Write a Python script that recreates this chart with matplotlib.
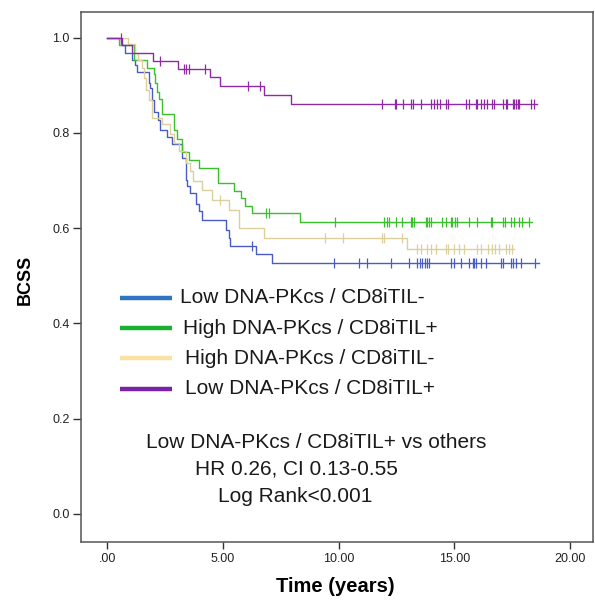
import matplotlib
matplotlib.use("Agg")
import matplotlib.pyplot as plt
from matplotlib.lines import Line2D

plt.rcParams['font.family'] = ['Liberation Sans', 'DejaVu Sans']

# ---- data ----
group_names = ["Low DNA-PKcs / CD8iTIL-", "High DNA-PKcs / CD8iTIL+",
               "High DNA-PKcs / CD8iTIL-", "Low DNA-PKcs / CD8iTIL+"]

blue_times = [0, 0.6, 0.78, 1.07, 1.21, 1.3, 1.78, 1.85, 1.95, 2.0, 2.2, 2.27, 2.56, 2.8,
              3.23, 3.38, 3.45, 3.56, 3.85, 3.95, 4.1, 5.11, 5.25, 5.32, 6.41, 7.13]
blue_surv = [1.0, 0.985, 0.968, 0.954, 0.943, 0.929, 0.905, 0.894, 0.87, 0.845, 0.828, 0.807,
             0.792, 0.776, 0.748, 0.702, 0.688, 0.674, 0.65, 0.636, 0.617, 0.597, 0.58, 0.562,
             0.545, 0.527]
blue_end = 18.67
blue_cens = [6.26, 9.8, 10.88, 11.24, 12.28, 13.04, 13.41, 13.51, 13.62, 13.72, 13.84, 13.91,
             14.85, 14.99, 15.28, 15.64, 15.79, 15.86, 15.93, 16.15, 16.36, 17.01, 17.09,
             17.45, 17.52, 17.66, 17.88, 18.5]

green_times = [0, 0.49, 1.14, 1.72, 2.0, 2.08, 2.15, 2.22, 2.37, 2.87, 3.0, 3.23, 3.52, 3.95,
               4.80, 5.47, 5.78, 5.97, 6.26, 8.35]
green_surv = [1.0, 0.985, 0.954, 0.937, 0.923, 0.904, 0.886, 0.871, 0.840, 0.806, 0.788, 0.760,
              0.744, 0.727, 0.694, 0.679, 0.663, 0.646, 0.632, 0.614]
green_end = 18.38
green_cens = [6.88, 6.98, 9.83, 11.96, 12.08, 12.18, 12.47, 12.76, 13.12, 13.19, 13.26, 13.77,
              13.84, 13.91, 13.98, 14.49, 14.63, 14.85, 14.92, 15.02, 15.14, 15.64, 16.0,
              16.58, 16.65, 17.09, 17.19, 17.45, 17.59, 17.81, 17.95, 18.24]

beige_times = [0, 0.89, 1.21, 1.31, 1.5, 1.58, 1.66, 1.81, 1.95, 2.37, 2.73, 2.87, 3.09, 3.38,
               3.59, 3.71, 4.1, 4.53, 5.25, 5.68, 6.77, 12.94]
beige_surv = [1.0, 0.987, 0.968, 0.954, 0.936, 0.915, 0.891, 0.87, 0.832, 0.818, 0.797, 0.779,
              0.762, 0.737, 0.72, 0.699, 0.681, 0.660, 0.639, 0.601, 0.580, 0.556]
beige_end = 17.59
beige_cens = [4.86, 9.39, 10.2, 11.89, 11.96, 12.76, 13.41, 13.55, 13.84, 13.98, 14.2, 14.63,
              14.71, 14.99, 15.21, 15.42, 16.0, 16.15, 16.44, 16.65, 16.75, 16.94, 17.23,
              17.37, 17.48]

purple_times = [0, 0.64, 1.07, 1.98, 3.06, 4.43, 4.86, 6.77, 7.92]
purple_surv = [1.0, 0.985, 0.968, 0.952, 0.934, 0.917, 0.898, 0.880, 0.860]
purple_end = 18.6
purple_cens = [0.6, 2.29, 3.33, 3.42, 3.52, 4.24, 6.09, 6.62, 11.89, 12.42, 12.47, 12.80,
               13.12, 13.23, 13.58, 13.98, 14.13, 14.27, 14.39, 14.63, 14.71, 15.50, 15.64,
               15.93, 16.0, 16.15, 16.29, 16.41, 16.65, 16.72, 17.09, 17.23, 17.30, 17.52,
               17.59, 17.66, 17.74, 17.81, 18.31, 18.43]

x_ticks = [0, 5, 10, 15, 20]
x_tick_labels = [".00", "5.00", "10.00", "15.00", "20.00"]
y_ticks = [0.0, 0.2, 0.4, 0.6, 0.8, 1.0]
y_tick_labels = ["0.0", "0.2", "0.4", "0.6", "0.8", "1.0"]

annotation_lines = ["Low DNA-PKcs / CD8iTIL+ vs others", "HR 0.26, CI 0.13-0.55",
                    "Log Rank<0.001"]

# ---- styles ----
curve_colors = ["#4a5cc4", "#3cbf2c", "#dccf9c", "#8e2aa4"]
legend_colors = ["#2f74c0", "#18b030", "#fbe2a2", "#7a22a8"]

fig = plt.figure(figsize=(5.95, 6.0), dpi=100)
ax = fig.add_axes([81 / 595, 1 - 542 / 600, (593 - 81) / 595, (542 - 12) / 600])


def surv_at(times, surv, t):
    s = surv[0]
    for ti, si in zip(times, surv):
        if ti <= t:
            s = si
    return s


groups = [
    (blue_times, blue_surv, blue_end, blue_cens),
    (green_times, green_surv, green_end, green_cens),
    (beige_times, beige_surv, beige_end, beige_cens),
    (purple_times, purple_surv, purple_end, purple_cens),
]

for (times, surv, end, cens), col in zip(groups, curve_colors):
    xs = list(times) + [end]
    ys = list(surv) + [surv[-1]]
    ax.step(xs, ys, where='post', color=col, lw=1.0, zorder=3)
    cy = [surv_at(times, surv, c) for c in cens]
    ax.plot(cens, cy, ls='none', marker='|', ms=7, mew=0.9, color=col, zorder=3)

ax.set_xlim(-1.14, 21.0)
ax.set_ylim(-0.059, 1.054)
ax.set_xticks(x_ticks)
ax.set_xticklabels(x_tick_labels)
ax.set_yticks(y_ticks)
ax.set_yticklabels(y_tick_labels)
ax.tick_params(axis='both', direction='out', width=1.0, color='#333333',
               labelsize=9, labelcolor='#222222')
ax.tick_params(axis='x', length=5, pad=3)
ax.tick_params(axis='y', length=6, pad=2)
for sp in ax.spines.values():
    sp.set_color('#555555')
    sp.set_linewidth(1.1)

fig.text(335 / 595, 1 - 587 / 600, "Time (years)", fontsize=14.5, fontweight='bold',
         ha='center', va='center')
fig.text(25 / 595, 1 - 280 / 600, "BCSS", rotation=90, fontsize=13, fontweight='bold',
         ha='center', va='center')

# legend drawn manually inside the axes (in pixel-based figure coordinates)
leg_rows = [298, 328, 358, 389]
leg_text_x = [180, 183, 185, 185]
for name, col, py, tx in zip(group_names, legend_colors, leg_rows, leg_text_x):
    fig.add_artist(Line2D([120 / 595, 172 / 595], [1 - py / 600, 1 - py / 600],
                          color=col, lw=3.2, solid_capstyle='butt'))
    fig.text(tx / 595, 1 - py / 600, name, fontsize=15, ha='left', va='center',
             color='#1a1a1a')

ann_rows = [442, 469, 497]
ann_x = [146, 195, 218]
for line, py, px in zip(annotation_lines, ann_rows, ann_x):
    fig.text(px / 595, 1 - py / 600, line, fontsize=15, ha='left', va='center',
             color='#1a1a1a')

fig.savefig("out.png", dpi=100)
